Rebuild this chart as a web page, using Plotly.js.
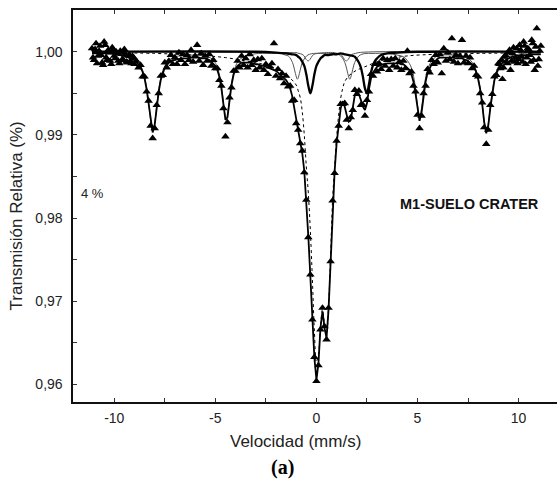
<!DOCTYPE html>
<html>
<head>
<meta charset="utf-8">
<script src="https://cdn.plot.ly/plotly-3.0.1.min.js"></script>
<style>html,body{margin:0;padding:0;background:#fff;}#chart{width:557px;height:486px;}</style>
</head>
<body>
<div id="chart"></div>
<script>
// Velocity of each channel (mm/s)
const VEL = [
-11.1,-11.0,-10.9,-10.8,-10.7,-10.6,-10.5,-10.4,-10.3,-10.2,
-10.1,-10.0,-9.9,-9.8,-9.7,-9.6,-9.5,-9.4,-9.3,-9.2,
-9.1,-9.0,-8.9,-8.8,-8.7,-8.6,-8.5,-8.4,-8.3,-8.2,
-8.1,-8.0,-7.9,-7.8,-7.7,-7.6,-7.5,-7.4,-7.3,-7.2,
-7.1,-7.0,-6.9,-6.8,-6.7,-6.6,-6.5,-6.4,-6.3,-6.2,
-6.1,-6.0,-5.9,-5.8,-5.7,-5.6,-5.5,-5.4,-5.3,-5.2,
-5.1,-5.0,-4.9,-4.8,-4.7,-4.6,-4.5,-4.4,-4.3,-4.2,
-4.1,-4.0,-3.9,-3.8,-3.7,-3.6,-3.5,-3.4,-3.3,-3.2,
-3.1,-3.0,-2.9,-2.8,-2.7,-2.6,-2.5,-2.4,-2.3,-2.2,
-2.1,-2.0,-1.9,-1.8,-1.7,-1.6,-1.5,-1.4,-1.3,-1.2,
-1.1,-1.0,-0.9,-0.8,-0.7,-0.6,-0.5,-0.4,-0.3,-0.2,
-0.1,0.0,0.1,0.2,0.3,0.4,0.5,0.6,0.7,0.8,
0.9,1.0,1.1,1.2,1.3,1.4,1.5,1.6,1.7,1.8,
1.9,2.0,2.1,2.2,2.3,2.4,2.5,2.6,2.7,2.8,
2.9,3.0,3.1,3.2,3.3,3.4,3.5,3.6,3.7,3.8,
3.9,4.0,4.1,4.2,4.3,4.4,4.5,4.6,4.7,4.8,
4.9,5.0,5.1,5.2,5.3,5.4,5.5,5.6,5.7,5.8,
5.9,6.0,6.1,6.2,6.3,6.4,6.5,6.6,6.7,6.8,
6.9,7.0,7.1,7.2,7.3,7.4,7.5,7.6,7.7,7.8,
7.9,8.0,8.1,8.2,8.3,8.4,8.5,8.6,8.7,8.8,
8.9,9.0,9.1,9.2,9.3,9.4,9.5,9.6,9.7,9.8,
9.9,10.0,10.1,10.2,10.3,10.4,10.5,10.6,10.7,10.8,
10.9,11.0,11.1
];

// Measured relative transmission (triangles)
const TRANS = [
1.0004,0.9990,1.0010,0.9995,1.0007,0.9987,1.0012,0.9993,1.0002,0.9989,
1.0005,0.9995,1.0000,0.9989,1.0001,0.9991,1.0003,0.9988,0.9995,0.9989,
0.9995,0.9985,0.9989,0.9981,0.9984,0.9970,0.9970,0.9952,0.9941,0.9911,
0.9896,0.9908,0.9936,0.9950,0.9971,0.9972,0.9987,0.9981,0.9989,0.9996,
0.9985,0.9993,0.9985,0.9999,0.9990,0.9997,0.9985,0.9996,0.9990,1.0002,
0.9988,0.9995,1.0008,0.9989,0.9998,0.9984,0.9995,0.9989,0.9997,0.9983,
0.9990,0.9980,0.9980,0.9966,0.9959,0.9932,0.9898,0.9915,0.9945,0.9957,
0.9977,0.9977,0.9989,0.9981,0.9995,0.9984,0.9992,0.9981,0.9997,0.9984,
0.9990,0.9978,0.9991,0.9981,0.9992,0.9978,0.9985,0.9973,0.9982,0.9986,
1.0010,0.9971,0.9979,0.9968,0.9974,0.9962,0.9971,0.9958,0.9959,0.9941,
0.9942,0.9914,0.9906,0.9890,0.9881,0.9855,0.9822,0.9777,0.9732,0.9678,
0.9633,0.9604,0.9623,0.9666,0.9692,0.9670,0.9654,0.9692,0.9748,0.9821,
0.9854,0.9893,0.9911,0.9937,0.9937,0.9938,0.9918,0.9908,0.9921,0.9930,
0.9954,0.9949,0.9953,0.9936,0.9936,0.9923,0.9942,0.9952,0.9973,0.9971,
0.9985,0.9976,0.9986,0.9979,0.9992,0.9983,0.9990,0.9978,0.9991,0.9983,
0.9992,0.9981,0.9988,0.9978,0.9989,0.9980,1.0001,0.9974,0.9976,0.9959,
0.9952,0.9924,0.9908,0.9923,0.9950,0.9959,0.9979,0.9975,0.9990,0.9985,
0.9996,0.9987,0.9997,0.9974,1.0004,0.9989,0.9999,0.9991,1.0016,0.9988,
0.9996,0.9986,0.9995,1.0014,0.9987,0.9995,0.9986,0.9993,0.9980,0.9983,
0.9972,0.9970,0.9950,0.9939,0.9909,0.9889,0.9906,0.9936,0.9949,0.9970,
0.9972,0.9986,0.9980,0.9967,0.9994,0.9988,0.9999,0.9978,0.9998,0.9988,
1.0004,0.9991,1.0002,0.9988,1.0007,0.9993,1.0003,0.9988,1.0010,0.9978,
1.0028,0.9991,1.0007
];

// Extra channels near the ends of the velocity sweep (denser sampling there)
const EDGE_VEL = [
-11.05,-10.95,-10.85,-10.75,-10.65,-10.55,-10.45,-10.35,-10.25,-10.15,
-10.05,-9.95,-9.85,-9.75,-9.65,-9.55,-9.45,-9.35,-9.25,-9.15,-9.05,
9.05,9.15,9.25,9.35,9.45,9.55,9.65,9.75,9.85,9.95,
10.05,10.15,10.25,10.35,10.45,10.55,10.65,10.75,10.85,10.95,11.05
];
const EDGE_TRANS = [
0.9993,1.0003,0.9986,1.0001,0.9996,0.9984,1.0008,0.9990,0.9999,0.9985,
1.0003,0.9992,0.9998,0.9986,0.9999,0.9990,0.9997,0.9987,0.9996,0.9986,0.9993,
0.9985,0.9990,0.9981,0.9996,0.9986,1.0002,0.9989,1.0005,0.9993,0.9986,
1.0008,0.9994,1.0012,0.9985,1.0004,0.9996,1.0014,0.9990,1.0006,0.9983,1.0001
];

// Total fitted spectrum at each channel (solid line)
const FIT = [
0.9998,0.9998,0.9998,0.9998,0.9998,0.9998,0.9998,0.9998,0.9998,0.9998,
0.9998,0.9997,0.9997,0.9996,0.9996,0.9995,0.9995,0.9994,0.9993,0.9992,
0.9991,0.9990,0.9988,0.9985,0.9981,0.9976,0.9968,0.9955,0.9937,0.9916,
0.9903,0.9912,0.9933,0.9952,0.9966,0.9975,0.9981,0.9985,0.9987,0.9989,
0.9990,0.9990,0.9991,0.9991,0.9992,0.9992,0.9992,0.9992,0.9993,0.9993,
0.9993,0.9993,0.9993,0.9993,0.9992,0.9992,0.9992,0.9991,0.9990,0.9988,
0.9986,0.9983,0.9978,0.9970,0.9956,0.9937,0.9918,0.9921,0.9941,0.9960,
0.9972,0.9979,0.9983,0.9985,0.9987,0.9987,0.9987,0.9987,0.9987,0.9986,
0.9986,0.9985,0.9985,0.9984,0.9983,0.9983,0.9982,0.9981,0.9980,0.9979,
0.9978,0.9977,0.9975,0.9973,0.9971,0.9969,0.9966,0.9962,0.9956,0.9947,
0.9934,0.9918,0.9904,0.9893,0.9878,0.9857,0.9820,0.9778,0.9730,0.9680,
0.9632,0.9606,0.9625,0.9668,0.9688,0.9668,0.9656,0.9690,0.9750,0.9818,
0.9856,0.9890,0.9915,0.9932,0.9940,0.9934,0.9924,0.9916,0.9918,0.9935,
0.9948,0.9952,0.9949,0.9942,0.9934,0.9930,0.9938,0.9955,0.9968,0.9975,
0.9979,0.9982,0.9983,0.9984,0.9985,0.9985,0.9986,0.9986,0.9986,0.9986,
0.9986,0.9986,0.9986,0.9985,0.9985,0.9983,0.9981,0.9978,0.9973,0.9964,
0.9950,0.9930,0.9917,0.9927,0.9947,0.9964,0.9975,0.9981,0.9985,0.9988,
0.9989,0.9992,0.9993,0.9993,0.9993,0.9993,0.9993,0.9993,0.9993,0.9993,
0.9992,0.9992,0.9992,0.9992,0.9991,0.9990,0.9989,0.9987,0.9985,0.9981,
0.9976,0.9967,0.9955,0.9937,0.9915,0.9902,0.9911,0.9932,0.9952,0.9965,
0.9974,0.9980,0.9984,0.9987,0.9989,0.9991,0.9992,0.9993,0.9994,0.9994,
0.9995,0.9995,0.9996,0.9996,0.9996,0.9996,0.9996,0.9997,0.9997,0.9997,
0.9997,0.9997,0.9997
];

// Sextet subspectrum (thin line)
const SEXTET_V = [
-11.1,-10.5,-9.69,-9.19,-8.89,-8.69,-8.54,-8.39,-8.29,-8.19,
-8.09,-7.99,-7.89,-7.79,-7.64,-7.49,-7.29,-6.99,-6.3,-5.56,
-5.26,-5.06,-4.91,-4.76,-4.66,-4.56,-4.46,-4.36,-4.26,-4.16,
-4.01,-3.86,-3.66,-3.36,-2.86,-2.04,-1.74,-1.54,-1.39,-1.24,
-1.14,-1.04,-0.94,-0.84,-0.74,-0.64,-0.49,-0.34,-0.14,0.35,
0.85,1.05,1.2,1.35,1.45,1.55,1.65,1.75,1.85,1.95,
2.1,2.25,2.45,2.75,3.51,4.01,4.31,4.51,4.66,4.81,
4.91,5.01,5.11,5.21,5.31,5.41,5.56,5.71,5.91,6.21,
6.76,7.31,7.61,7.81,7.96,8.11,8.21,8.31,8.41,8.51,
8.61,8.71,8.86,9.01,9.21,9.51,10.01,10.6,11.1
];
const SEXTET_T = [
0.9999,0.9999,0.9997,0.9994,0.9990,0.9983,0.9974,0.9956,0.9937,0.9916,
0.9905,0.9916,0.9937,0.9956,0.9974,0.9983,0.9990,0.9994,0.9996,0.9995,
0.9993,0.9989,0.9982,0.9968,0.9952,0.9931,0.9919,0.9931,0.9952,0.9968,
0.9982,0.9989,0.9993,0.9996,0.9998,0.9998,0.9998,0.9996,0.9995,0.9990,
0.9984,0.9974,0.9967,0.9974,0.9984,0.9990,0.9995,0.9997,0.9998,0.9998,
0.9998,0.9997,0.9995,0.9990,0.9984,0.9974,0.9967,0.9974,0.9984,0.9990,
0.9995,0.9997,0.9998,0.9998,0.9998,0.9996,0.9994,0.9989,0.9983,0.9970,
0.9954,0.9934,0.9922,0.9934,0.9954,0.9970,0.9983,0.9989,0.9994,0.9996,
0.9996,0.9994,0.9990,0.9983,0.9973,0.9955,0.9936,0.9915,0.9904,0.9915,
0.9936,0.9955,0.9973,0.9983,0.9990,0.9994,0.9997,0.9999,0.9999
];

// Fe2+ doublet subspectrum (thick line)
const DOUBLET_V = [
-11.1,-3.0,-2.0,-1.5,-1.2,-1.0,-0.9,-0.8,-0.7,-0.6,
-0.5,-0.4,-0.3,-0.2,-0.1,0.0,0.1,0.2,0.3,0.4,
0.6,0.8,1.0,1.2,1.4,1.6,1.8,1.9,2.0,2.1,
2.2,2.3,2.4,2.5,2.6,2.7,2.8,2.9,3.0,3.2,
3.5,4.0,5.0,11.1
];
const DOUBLET_T = [
1.0000,1.0000,0.9999,0.9998,0.9997,0.9996,0.9994,0.9992,0.9988,0.9983,
0.9973,0.9959,0.9950,0.9959,0.9973,0.9983,0.9988,0.9992,0.9994,0.9996,
0.9996,0.9997,0.9997,0.9998,0.9997,0.9996,0.9995,0.9994,0.9991,0.9987,
0.9981,0.9970,0.9956,0.9950,0.9961,0.9975,0.9984,0.9989,0.9992,0.9996,
0.9998,0.9999,1.0000,1.0000
];

// Small doublet subspectrum (thin line)
const SMALL_V = [
-11.1,-1.2,-1.01,-0.86,-0.71,-0.61,-0.51,-0.41,-0.31,-0.21,
-0.11,0.04,0.5,0.88,1.03,1.18,1.28,1.38,1.48,1.58,
1.68,1.78,1.93,2.1,3.0,11.1
];
const SMALL_T = [
1.0000,0.9999,0.9999,0.9998,0.9997,0.9995,0.9991,0.9989,0.9991,0.9995,
0.9997,0.9998,0.9999,0.9999,0.9998,0.9997,0.9995,0.9991,0.9989,0.9991,
0.9995,0.9997,0.9998,0.9999,1.0000,1.0000
];

// Broad central subspectrum (dotted line)
const CENTRAL_V = [
-11.1,-8.0,-6.0,-4.5,-3.5,-3.0,-2.5,-2.0,-1.7,-1.4,
-1.2,-1.0,-0.9,-0.8,-0.7,-0.6,-0.5,-0.4,-0.3,-0.2,
-0.1,0.0,0.1,0.2,0.3,0.4,0.5,0.6,0.7,0.8,
0.9,1.0,1.1,1.2,1.3,1.4,1.6,1.8,2.0,2.3,
2.6,3.0,3.5,4.5,6.0,8.0,11.1
];
const CENTRAL_T = [
0.9999,0.9998,0.9996,0.9993,0.9989,0.9987,0.9984,0.9980,0.9976,0.9970,
0.9966,0.9960,0.9953,0.9945,0.9928,0.9900,0.9862,0.9830,0.9785,0.9727,
0.9664,0.9627,0.9636,0.9670,0.9690,0.9673,0.9661,0.9694,0.9754,0.9822,
0.9861,0.9897,0.9924,0.9944,0.9956,0.9964,0.9971,0.9975,0.9978,0.9981,
0.9984,0.9988,0.9991,0.9995,0.9997,0.9998,0.9999
];

// Axis ticks
const X_TICKS = [-10, -5, 0, 5, 10];
const X_TICK_TEXT = ['-10', '-5', '0', '5', '10'];
const X_MINOR = [-12.5, -7.5, -2.5, 2.5, 7.5];
const Y_TICKS = [0.96, 0.97, 0.98, 0.99, 1.00];
const Y_TICK_TEXT = ['0,96', '0,97', '0,98', '0,99', '1,00'];
const Y_MINOR = [0.965, 0.975, 0.985, 0.995];

const FONT = 'Liberation Sans, Arial, Helvetica, sans-serif';

const MARK = {symbol: 'triangle-up', size: 7.5, color: '#000', line: {width: 0}};

const traces = [
  {x: CENTRAL_V, y: CENTRAL_T, type: 'scatter', mode: 'lines',
   line: {color: '#000', width: 1, dash: 'dot', shape: 'spline'}, hoverinfo: 'skip'},
  {x: SMALL_V, y: SMALL_T, type: 'scatter', mode: 'lines',
   line: {color: '#555', width: 1, shape: 'spline'}, hoverinfo: 'skip'},
  {x: SEXTET_V, y: SEXTET_T, type: 'scatter', mode: 'lines',
   line: {color: '#555', width: 1, shape: 'spline'}, hoverinfo: 'skip'},
  {x: DOUBLET_V, y: DOUBLET_T, type: 'scatter', mode: 'lines',
   line: {color: '#000', width: 2.3, shape: 'spline'}, hoverinfo: 'skip'},
  {x: VEL, y: FIT, type: 'scatter', mode: 'lines',
   line: {color: '#000', width: 1.8}, hoverinfo: 'skip'},
  {x: EDGE_VEL, y: EDGE_TRANS, type: 'scatter', mode: 'markers', marker: MARK},
  {x: VEL, y: TRANS, type: 'scatter', mode: 'markers', marker: MARK}
];

const layout = {
  width: 557, height: 486,
  margin: {l: 73, r: 0, t: 10, b: 84, pad: 0},
  paper_bgcolor: '#fff', plot_bgcolor: '#fff',
  showlegend: false,
  separators: ',.',
  font: {family: FONT, color: '#222'},
  xaxis: {
    range: [-12.04, 11.9],
    tickmode: 'array', tickvals: X_TICKS, ticktext: X_TICK_TEXT,
    ticks: 'inside', ticklen: 4, tickwidth: 1, tickcolor: '#333',
    minor: {tickmode: 'array', tickvals: X_MINOR, ticks: 'inside', ticklen: 4, tickcolor: '#333'},
    showline: true, linecolor: '#111', linewidth: 1.6, mirror: 'ticks',
    showgrid: false, zeroline: false,
    tickfont: {family: FONT, size: 14, color: '#222'},
    ticklabelstandoff: 3
  },
  yaxis: {
    range: [0.9579, 1.00502],
    tickmode: 'array', tickvals: Y_TICKS, ticktext: Y_TICK_TEXT,
    ticks: 'inside', ticklen: 4, tickwidth: 1, tickcolor: '#333',
    minor: {tickmode: 'array', tickvals: Y_MINOR, ticks: 'inside', ticklen: 4, tickcolor: '#333'},
    showline: true, linecolor: '#111', linewidth: 1.6, mirror: false,
    showgrid: false, zeroline: false,
    tickfont: {family: FONT, size: 14, color: '#222'},
    ticklabelstandoff: 6
  },
  annotations: [
    {text: 'Transmisión Relativa (%)', xref: 'paper', yref: 'paper', x: -0.1147, y: 0.4745,
     xanchor: 'center', yanchor: 'middle', textangle: -90, showarrow: false,
     font: {family: FONT, size: 17, color: '#222'}},
    {text: 'Velocidad (mm/s)', xref: 'paper', yref: 'paper', x: 0.4597, y: -0.0995,
     xanchor: 'center', yanchor: 'middle', showarrow: false,
     font: {family: FONT, size: 17, color: '#222'}},
    {text: '(a)', xref: 'paper', yref: 'paper', x: 0.433, y: -0.168,
     xanchor: 'center', yanchor: 'middle', showarrow: false,
     font: {family: 'Liberation Serif, Times New Roman, serif', size: 20, color: '#000', weight: 'bold'}},
    {text: '4 %', xref: 'paper', yref: 'paper', x: 0.0134, y: 0.533,
     xanchor: 'left', yanchor: 'middle', showarrow: false,
     font: {family: FONT, size: 13, color: '#222'}},
    {text: '<b>M1-SUELO CRATER</b>', xref: 'paper', yref: 'paper', x: 0.820, y: 0.505,
     xanchor: 'center', yanchor: 'middle', showarrow: false,
     font: {family: 'Liberation Sans Narrow, Arial Narrow, Liberation Sans, sans-serif', size: 14.5, color: '#111'}}
  ]
};

Plotly.newPlot('chart', traces, layout, {displayModeBar: false, staticPlot: true});
</script>
</body>
</html>
